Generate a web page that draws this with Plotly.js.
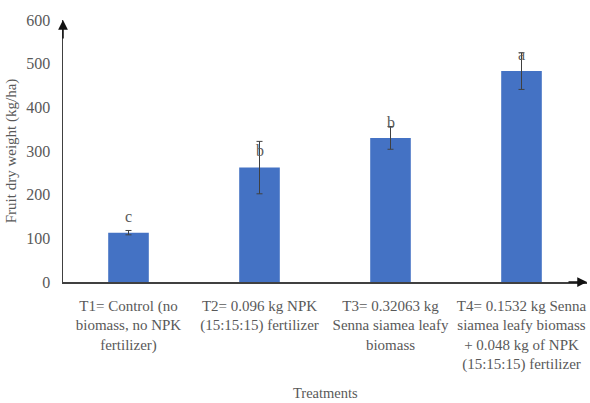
<!DOCTYPE html>
<html><head><meta charset="utf-8">
<script src="https://cdn.plot.ly/plotly-3.0.1.min.js"></script>
<style>html,body{margin:0;padding:0;background:#fff}#c{width:590px;height:403px}</style>
</head><body><div id="c"></div>
<script>
const categories = [
  "T1= Control (no<br>biomass, no NPK<br>fertilizer)",
  "T2= 0.096 kg NPK<br>(15:15:15) fertilizer",
  "T3= 0.32063 kg<br>Senna siamea leafy<br>biomass",
  "T4= 0.1532 kg Senna<br>siamea leafy biomass<br>+ 0.048 kg of NPK<br>(15:15:15) fertilizer"
];
const values = [113, 262, 330, 483];
const errors = [5, 60, 26, 42];
const letters = ["c", "b", "b", "a"];
const letterY = [151, 302, 366, 521];
const yTicks = [0, 100, 200, 300, 400, 500, 600];

const serif = "'Liberation Serif', serif";
const grey = "#595959";

const annotations = letters.map((t, i) => ({
  x: categories[i], y: letterY[i], xref: "x", yref: "y",
  text: t, showarrow: false, yanchor: "middle",
  font: {family: serif, size: 16, color: grey}
}));
// axis arrowheads
annotations.push({xref: "paper", yref: "paper", x: 0, y: 1.0, ax: 0, ay: 20,
  showarrow: true, arrowhead: 2, arrowsize: 1.3, arrowwidth: 1.5, arrowcolor: "#111", text: ""});
annotations.push({xref: "paper", yref: "paper", x: 1, y: 0, ax: -20, ay: 0,
  showarrow: true, arrowhead: 2, arrowsize: 1.3, arrowwidth: 1.5, arrowcolor: "#111", text: ""});
// x-axis title placed at the reference position
annotations.push({xref: "paper", yref: "paper", x: 0.5, y: 0, yshift: -111, yanchor: "middle",
  showarrow: false, text: "Treatments", font: {family: serif, size: 14.5, color: grey}});

Plotly.newPlot("c", [{
  type: "bar", x: categories, y: values,
  marker: {color: "#4472C4"}, width: 0.31,
  error_y: {type: "data", array: errors, visible: true, color: "#404040", thickness: 1, width: 3}
}], {
  width: 590, height: 403,
  margin: {l: 63, r: 3, t: 20, b: 121},
  paper_bgcolor: "#fff", plot_bgcolor: "#fff",
  showlegend: false,
  xaxis: {
    showline: true, linecolor: "#404040", linewidth: 1.5, showgrid: false, zeroline: false,
    ticks: "", ticklabelstandoff: 9, tickfont: {family: serif, size: 15, color: grey}
  },
  yaxis: {
    range: [0, 600], tickvals: yTicks, showline: true, linecolor: "#404040", linewidth: 1.5,
    showgrid: false, zeroline: false, ticks: "", ticklabelstandoff: 8,
    tickfont: {family: serif, size: 16, color: grey},
    title: {text: "Fruit dry weight (kg/ha)", font: {family: serif, size: 15, color: grey}, standoff: 6}
  },
  annotations: annotations
}, {displayModeBar: false, staticPlot: true});
</script></body></html>
